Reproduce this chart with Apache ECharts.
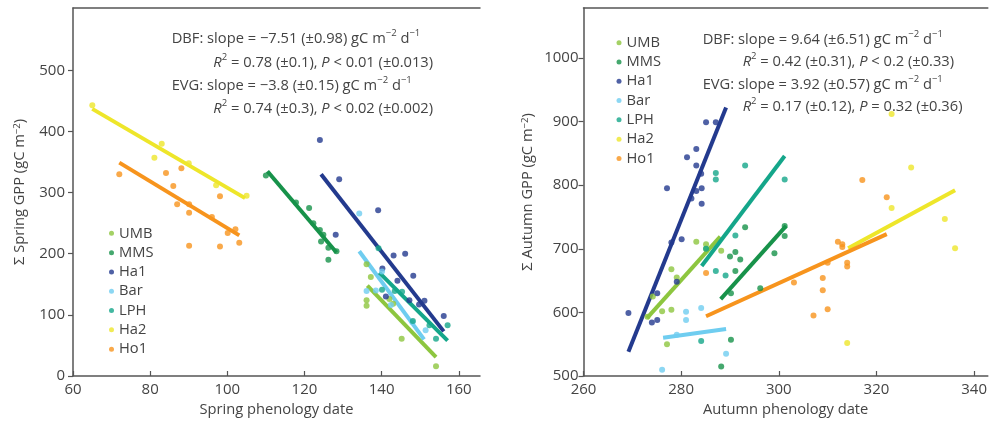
<!DOCTYPE html>
<html><head><meta charset="utf-8">
<script src="https://cdn.jsdelivr.net/npm/echarts@6/dist/echarts.min.js"></script>
<style>html,body{margin:0;padding:0;background:#fff}#c{width:990px;height:422px}</style>
</head><body><div id="c"></div>
<script>
const sites = ['UMB','MMS','Ha1','Bar','LPH','Ha2','Ho1'];
const colors = ['#8dc63f','#17924a','#233a8e','#6fcdf0','#14a68a','#eee62a','#f7941d'];

const springTicksX = [60,80,100,120,140,160];
const springTicksY = [0,100,200,300,400,500];
const autumnTicksX = [260,280,300,320,340];
const autumnTicksY = [500,600,700,800,900,1000];

// Spring panel points [date, GPP]
const springUMB = [[136.1,183],[137.2,162],[136.1,124],[136.1,115],[142.0,126],[143.0,118],[145.2,61],[154.1,16]];
const springMMS = [[110.0,328],[117.8,284],[121.2,275],[122.3,250],[124.0,239],[124.9,231],[124.3,220],[126.2,210],[128.3,204],[126.2,190]];
const springHa1 = [[124.0,386],[129.0,322],[128.1,231],[139.1,271],[143.1,197],[146.1,200],[148.2,164],[140.2,176],[144.1,156],[141.1,130],[147.2,124],[151.1,123],[149.7,117],[156.1,98]];
const springBar = [[134.2,266],[140.1,171],[136.1,139],[142.4,116],[148.0,88],[151.4,75],[138.5,140]];
const springLPH = [[139.2,209],[140.1,141],[143.4,139],[145.3,138],[148.1,90],[152.4,83],[154.1,61],[157.1,83]];
const springHa2 = [[65.0,443],[81.1,357],[83.0,380],[90.0,348],[97.1,312],[105.0,295]];
const springHo1 = [[72.0,330],[84.1,332],[86.0,311],[88.1,340],[87.0,281],[90.1,281],[90.1,267],[96.0,260],[98.1,294],[90.1,213],[98.1,212],[100.1,234],[102.1,240],[103.1,218]];

// Spring regression lines (end points)
const springFitUMB = [[136.3,148],[154.1,31]];
const springFitMMS = [[110.4,335],[128.3,202]];
const springFitHa1 = [[124.3,330],[156.1,73]];
const springFitBar = [[134.2,204],[151.0,60]];
const springFitLPH = [[139.4,169],[157.1,58]];
const springFitHa2 = [[65.0,437],[104.6,291]];
const springFitHo1 = [[72.0,349],[103.1,230]];

// Autumn panel points
const autumnUMB = [[274.2,625],[276.1,602],[278.0,604],[277.1,550],[278.0,668],[279.1,655],[283.1,711],[285.1,707],[285.1,700],[288.2,697],[273.1,593]];
const autumnMMS = [[288.2,515],[290.2,557],[290.2,630],[296.2,638],[290.0,688],[291.1,695],[292.1,683],[291.1,665],[293.1,734],[299.1,693],[301.2,736],[301.2,720]];
const autumnHa1 = [[269.2,599],[275.1,630],[274.0,584],[275.1,588],[277.1,795],[278.0,710],[279.1,648],[280.1,715],[281.2,844],[283.1,857],[283.1,831],[284.1,818],[282.1,779],[283.1,791],[284.2,795],[284.2,771],[285.1,899],[287.1,899]];
const autumnBar = [[276.1,510],[281.0,601],[281.0,588],[284.1,607],[289.2,535],[279.1,565]];
const autumnLPH = [[284.1,555],[287.1,819],[287.1,809],[293.1,831],[301.2,809],[291.1,721],[287.1,665],[289.1,658],[285.1,700]];
const autumnHa2 = [[323.1,912],[323.1,764],[327.1,828],[334.0,747],[336.1,701],[314.0,552]];
const autumnHo1 = [[285.1,662],[303.1,647],[307.1,595],[309.0,654],[309.0,635],[310.0,605],[310.0,678],[312.1,711],[313.0,707],[313.0,703],[314.0,678],[314.0,672],[317.1,808],[322.1,781]];

const autumnFitUMB = [[273.0,591],[288.0,719]];
const autumnFitMMS = [[288.1,621],[301.5,736]];
const autumnFitHa1 = [[269.2,538],[289.2,922]];
const autumnFitBar = [[276.3,560],[289.2,574]];
const autumnFitLPH = [[284.2,673],[301.2,846]];
const autumnFitHa2 = [[314.2,701],[336.1,792]];
const autumnFitHo1 = [[285.1,594],[322.1,723]];

const springPts = [springUMB,springMMS,springHa1,springBar,springLPH,springHa2,springHo1];
const springFits = [springFitUMB,springFitMMS,springFitHa1,springFitBar,springFitLPH,springFitHa2,springFitHo1];
const autumnPts = [autumnUMB,autumnMMS,autumnHa1,autumnBar,autumnLPH,autumnHa2,autumnHo1];
const autumnFits = [autumnFitUMB,autumnFitMMS,autumnFitHa1,autumnFitBar,autumnFitLPH,autumnFitHa2,autumnFitHo1];

const FONT = 'Open Sans';
const TXT = '#444';
const AX = '#555';
const FS = 14.7;

function xAxisMain(gi, min, max, ticks, name){
  return {gridIndex: gi, type:'value', min, max, position:'bottom',
    name, nameLocation:'middle', nameGap:26,
    nameTextStyle:{color:TXT, fontSize:FS, fontFamily:FONT},
    axisLine:{show:true, onZero:false, lineStyle:{color:AX, width:1.5}},
    axisTick:{show:true, inside:true, length:5, customValues:ticks, lineStyle:{color:AX, width:1.2}},
    axisLabel:{customValues:ticks, color:TXT, fontSize:15, fontFamily:FONT, margin:6, formatter:v=>String(v)},
    splitLine:{show:false}};
}
function xAxisTop(gi, min, max){
  return {gridIndex: gi, type:'value', min, max, position:'top',
    axisLine:{show:true, onZero:false, lineStyle:{color:AX, width:1.5}},
    axisTick:{show:false}, axisLabel:{show:false}, splitLine:{show:false}};
}
function yAxisMain(gi, min, max, ticks, name, gap, margin){
  return {gridIndex: gi, type:'value', min, max,
    name, nameLocation:'middle', nameGap:gap,
    nameTextStyle:{color:TXT, fontSize:FS, fontFamily:FONT, rich:{s:{fontSize:9.5, verticalAlign:'top', lineHeight:10, color:TXT, fontFamily:FONT}}},
    axisLine:{show:true, onZero:false, lineStyle:{color:AX, width:1.5}},
    axisTick:{show:true, inside:false, length:5, customValues:ticks, lineStyle:{color:AX, width:1.2}},
    axisLabel:{customValues:ticks, color:TXT, fontSize:15, fontFamily:FONT, margin:margin, formatter:v=>String(v)},
    splitLine:{show:false}};
}

const series = [];
function addPanel(pts, fits, xi, yi){
  for (let i=0;i<sites.length;i++){
    series.push({type:'line', name:sites[i]+' fit', xAxisIndex:xi, yAxisIndex:yi, data:fits[i],
      symbol:'none', lineStyle:{color:colors[i], width:4}, z:2, silent:true});
  }
  for (let i=0;i<sites.length;i++){
    series.push({type:'scatter', name:sites[i], xAxisIndex:xi, yAxisIndex:yi, data:pts[i],
      symbol:'circle', symbolSize:6, itemStyle:{color:colors[i]}, z:3});
  }
}
addPanel(springPts, springFits, 0, 0);
addPanel(autumnPts, autumnFits, 2, 1);

const rich = {
  s:{fontSize:9.5, verticalAlign:'top', lineHeight:9, fill:TXT, fontFamily:FONT},
  i:{fontSize:FS, fontStyle:'italic', fill:TXT, fontFamily:FONT, lineHeight:18, verticalAlign:'bottom'},
  n:{fontSize:FS, fill:TXT, fontFamily:FONT, lineHeight:18, verticalAlign:'bottom'}
};
function ann(x, y, text){
  return {type:'text', left:x, top:y-9, silent:true,
    style:{text, rich, fill:TXT, fontSize:FS, fontFamily:FONT}};
}
const annotations = [
  ann(171.7, 37.7, '{n|DBF: slope = −7.51 (±0.98) gC m}{s|−2}{n| d}{s|−1}'),
  ann(213.3, 61, '{i|R}{s|2}{n| = 0.78 (±0.1), }{i|P}{n| < 0.01 (±0.013)}'),
  ann(171.7, 84.3, '{n|EVG: slope = −3.8 (±0.15) gC m}{s|−2}{n| d}{s|−1}'),
  ann(213.3, 107, '{i|R}{s|2}{n| = 0.74 (±0.3), }{i|P}{n| < 0.02 (±0.002)}'),
  ann(702.7, 38, '{n|DBF: slope = 9.64 (±6.51) gC m}{s|−2}{n| d}{s|−1}'),
  ann(742.7, 60.5, '{i|R}{s|2}{n| = 0.42 (±0.31), }{i|P}{n| < 0.2 (±0.33)}'),
  ann(702.7, 83, '{n|EVG: slope = 3.92 (±0.57) gC m}{s|−2}{n| d}{s|−1}'),
  ann(742.7, 105.5, '{i|R}{s|2}{n| = 0.17 (±0.12), }{i|P}{n| = 0.32 (±0.36)}')
];

const legendCommon = {orient:'vertical', data:sites, itemGap:0, itemWidth:5, itemHeight:5, icon:'circle',
  textStyle:{color:TXT, fontSize:FS, fontFamily:FONT, lineHeight:19.3}, selectedMode:false};

const chart = echarts.init(document.getElementById('c'), null, {renderer:'canvas'});
chart.setOption({
  animation:false,
  backgroundColor:'#fff',
  textStyle:{fontFamily:FONT},
  grid:[
    {left:73, top:8, width:407, height:368.5},
    {left:583.5, top:8, width:407, height:368}
  ],
  xAxis:[
    xAxisMain(0, 60, 165.5, springTicksX, 'Spring phenology date'),
    xAxisTop(0, 60, 165.5),
    xAxisMain(1, 260, 342.8, autumnTicksX, 'Autumn phenology date'),
    xAxisTop(1, 260, 342.8)
  ],
  yAxis:[
    yAxisMain(0, 0, 602, springTicksY, 'Σ Spring GPP (gC m{s|−2})', 46, 8),
    yAxisMain(1, 500, 1078.6, autumnTicksY, 'Σ Autumn GPP (gC m{s|−2})', 48, 5)
  ],
  legend:[
    Object.assign({left:104, top:218.7}, legendCommon),
    Object.assign({left:611.5, top:28}, legendCommon)
  ],
  graphic: annotations,
  series
});
</script></body></html>
